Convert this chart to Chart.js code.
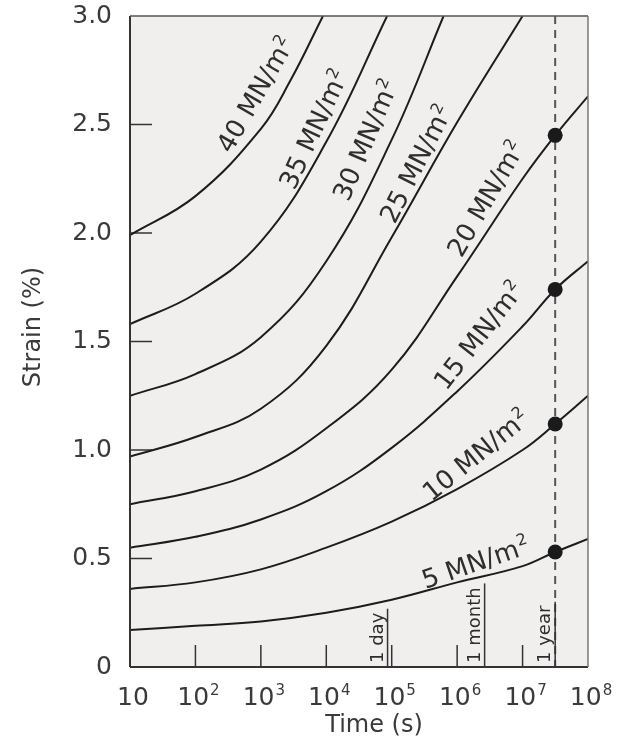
<!DOCTYPE html>
<html>
<head>
<meta charset="utf-8">
<script src="https://cdn.jsdelivr.net/npm/chart.js@4.4.1/dist/chart.umd.min.js"></script>
<style>
  html, body { margin: 0; padding: 0; background: #fff; }
  #wrap { width: 618px; height: 749px; }
</style>
</head>
<body>
<div id="wrap"><canvas id="creepChart" width="618" height="749"></canvas></div>
<script>
// Creep curves: strain (%) against time (s), one curve per stress level (MN/m2)
const stressLevels = [5, 10, 15, 20, 25, 30, 35, 40];

const times    = [1e1, 1e2, 1e3, 1e4, 1e5, 1e6, 1e7, 3.15e7, 1e8];
const strain5  = [0.17, 0.19, 0.21, 0.25, 0.31, 0.39, 0.465, 0.53, 0.59];
const strain10 = [0.36, 0.39, 0.45, 0.55, 0.67, 0.82, 1.00, 1.12, 1.25];
const strain15 = [0.55, 0.60, 0.68, 0.81, 1.01, 1.27, 1.57, 1.74, 1.87];
const strain20 = [0.75, 0.81, 0.91, 1.10, 1.37, 1.80, 2.25, 2.45, 2.63];
const times25  = [1e1, 1e2, 1e3, 1e4, 1e5, 1e6, 1e7];
const strain25 = [0.97, 1.06, 1.19, 1.48, 1.98, 2.51, 3.00];
const times30  = [1e1, 1e2, 1e3, 1e4, 1e5, 6.2e5];
const strain30 = [1.25, 1.35, 1.52, 1.87, 2.43, 3.00];
const times35  = [1e1, 1e2, 1e3, 1e4, 8.5e4];
const strain35 = [1.58, 1.72, 1.96, 2.42, 3.00];
const times40  = [1e1, 1e2, 1e3, 2.8e3, 8.9e3];
const strain40 = [1.99, 2.17, 2.48, 2.70, 3.00];

// strain after one year for the four lowest stresses
const oneYear = 3.15e7;
const yearStrains = [0.53, 1.12, 1.74, 2.45];

// time markers along the axis
const eventTimes  = [86400, 2.63e6, 3.15e7];
const eventLabels = ['1 day', '1 month', '1 year'];

// axis ticks
const yTicks = [0, 0.5, 1.0, 1.5, 2.0, 2.5, 3.0];
const xDecades = [1e1, 1e2, 1e3, 1e4, 1e5, 1e6, 1e7, 1e8];
const xExponents = ['', '2', '3', '4', '5', '6', '7', '8'];

const curveTimes = [times, times, times, times, times25, times30, times35, times40];
const curveStrains = [strain5, strain10, strain15, strain20, strain25, strain30, strain35, strain40];

const FONT = "'DejaVu Sans', sans-serif";
const INK = '#2e2e2e';

// where each stress label sits (data coords) and its tilt in degrees
const labelPlacement = {
  5:  { t: 1.9e6, s: 0.485, angle: 19 },
  10: { t: 1.9e6, s: 0.98,  angle: 39 },
  15: { t: 2.1e6, s: 1.53,  angle: 52 },
  20: { t: 2.7e6, s: 2.16,  angle: 60 },
  25: { t: 2.3e5, s: 2.32,  angle: 63 },
  30: { t: 3.9e4, s: 2.43,  angle: 67 },
  35: { t: 6.3e3, s: 2.48,  angle: 65 },
  40: { t: 8.1e2, s: 2.64,  angle: 60 }
};

const datasets = stressLevels.map((stress, i) => ({
  label: stress + ' MN/m²',
  data: curveTimes[i].map((t, k) => ({ x: t, y: curveStrains[i][k] })),
  borderColor: '#1c1c1c',
  borderWidth: 2,
  pointRadius: 0,
  tension: 0.4,
  fill: false
}));

datasets.push({
  label: '1 year',
  data: yearStrains.map(v => ({ x: oneYear, y: v })),
  showLine: false,
  pointRadius: 7.5,
  pointBackgroundColor: '#1a1a1a',
  pointBorderColor: '#1a1a1a',
  pointBorderWidth: 0
});

function strokeLine(ctx, x1, y1, x2, y2) {
  ctx.beginPath();
  ctx.moveTo(x1, y1);
  ctx.lineTo(x2, y2);
  ctx.stroke();
}

const decorPlugin = {
  id: 'creepDecor',
  beforeDraw(chart) {
    const { ctx, chartArea: a } = chart;
    ctx.save();
    ctx.fillStyle = '#f1eeee';
    ctx.fillRect(a.left, a.top, a.right - a.left, a.bottom - a.top);
    ctx.restore();
  },
  beforeDatasetsDraw(chart) {
    const { ctx, chartArea: a, scales: { x, y } } = chart;
    ctx.save();
    ctx.strokeStyle = '#333';
    ctx.lineWidth = 1.5;

    // inward tick marks
    yTicks.forEach(v => {
      if (v <= 0 || v >= 3) return;
      const py = y.getPixelForValue(v);
      strokeLine(ctx, a.left, py, a.left + 22, py);
    });
    xDecades.forEach(v => {
      if (v <= 10 || v >= 1e8) return;
      const px = x.getPixelForValue(v);
      strokeLine(ctx, px, a.bottom, px, a.bottom - 22);
    });

    // dashed line at one year
    const yearX = x.getPixelForValue(oneYear);
    ctx.strokeStyle = '#555';
    ctx.lineWidth = 2;
    ctx.setLineDash([8, 6]);
    strokeLine(ctx, yearX, a.top, yearX, a.bottom);
    ctx.setLineDash([]);

    // 1 day / 1 month / 1 year, underlined and turned upright
    ctx.font = '18px ' + FONT;
    ctx.fillStyle = INK;
    ctx.strokeStyle = '#333';
    ctx.lineWidth = 1.5;
    eventTimes.forEach((t, i) => {
      const px = x.getPixelForValue(t);
      const w = ctx.measureText(eventLabels[i]).width;
      ctx.save();
      ctx.translate(px - 5, a.bottom - 4);
      ctx.rotate(-Math.PI / 2);
      ctx.textAlign = 'left';
      ctx.textBaseline = 'alphabetic';
      ctx.fillText(eventLabels[i], 0, 0);
      ctx.restore();
      strokeLine(ctx, px, a.bottom, px, a.bottom - w - 8);
    });
    ctx.restore();
  },
  afterDatasetsDraw(chart) {
    const { ctx, chartArea: a, scales: { x, y } } = chart;
    ctx.save();

    // frame
    ctx.strokeStyle = '#333';
    ctx.lineWidth = 2;
    strokeLine(ctx, a.left, a.top, a.left, a.bottom);
    strokeLine(ctx, a.left, a.bottom, a.right, a.bottom);
    ctx.strokeStyle = '#555';
    ctx.lineWidth = 1.5;
    strokeLine(ctx, a.left, a.top, a.right, a.top);
    ctx.strokeStyle = '#777';
    strokeLine(ctx, a.right, a.top, a.right, a.bottom);

    // stress labels along the curves
    ctx.fillStyle = INK;
    stressLevels.forEach(stress => {
      const p = labelPlacement[stress];
      const main = stress + ' MN/m';
      ctx.font = '26px ' + FONT;
      const wm = ctx.measureText(main).width;
      ctx.font = '16px ' + FONT;
      const ws = ctx.measureText('2').width;
      ctx.save();
      ctx.translate(x.getPixelForValue(p.t), y.getPixelForValue(p.s));
      ctx.rotate(-p.angle * Math.PI / 180);
      ctx.textAlign = 'left';
      ctx.textBaseline = 'alphabetic';
      const start = -(wm + ws + 1) / 2;
      ctx.font = '26px ' + FONT;
      ctx.fillText(main, start, 9.5);
      ctx.font = '16px ' + FONT;
      ctx.fillText('2', start + wm + 1, -0.5);
      ctx.restore();
    });

    // decade labels under the x axis
    ctx.fillStyle = '#3a3a3a';
    ctx.textAlign = 'left';
    ctx.textBaseline = 'alphabetic';
    xDecades.forEach((v, i) => {
      const px = x.getPixelForValue(v);
      ctx.font = '25px ' + FONT;
      const wb = ctx.measureText('10').width;
      ctx.font = '15px ' + FONT;
      const we = xExponents[i] ? ctx.measureText(xExponents[i]).width + 1 : 0;
      const start = px - (wb + we) / 2 + 3;
      ctx.font = '25px ' + FONT;
      ctx.fillText('10', start, 705);
      if (xExponents[i]) {
        ctx.font = '15px ' + FONT;
        ctx.fillText(xExponents[i], start + wb + 1, 695);
      }
    });

    // axis titles
    ctx.textAlign = 'center';
    ctx.textBaseline = 'middle';
    ctx.font = '24px ' + FONT;
    ctx.fillText('Time (s)', 374, 726);
    ctx.save();
    ctx.translate(34, 327);
    ctx.rotate(-Math.PI / 2);
    ctx.fillText('Strain (%)', 0, 0);
    ctx.restore();

    ctx.restore();
  }
};

new Chart(document.getElementById('creepChart'), {
  type: 'line',
  data: { datasets },
  options: {
    responsive: false,
    animation: false,
    layout: { padding: { top: 16, right: 30, left: 0, bottom: 0 } },
    plugins: {
      legend: { display: false },
      tooltip: { enabled: false }
    },
    scales: {
      x: {
        type: 'logarithmic',
        min: 10,
        max: 1e8,
        afterFit: s => { s.height = 82; s.paddingLeft = 0; s.paddingRight = 0; },
        grid: { display: false, drawTicks: false },
        border: { display: false },
        ticks: { display: false }
      },
      y: {
        min: 0,
        max: 3,
        afterBuildTicks: s => { s.ticks = yTicks.map(v => ({ value: v })); },
        afterFit: s => { s.width = 130; s.paddingTop = 0; s.paddingBottom = 0; },
        grid: { display: false, drawTicks: false },
        border: { display: false },
        ticks: {
          padding: 18,
          color: '#3a3a3a',
          font: { family: FONT, size: 25 },
          callback: v => (v === 0 ? '0' : v.toFixed(1))
        }
      }
    }
  },
  plugins: [decorPlugin]
});
</script>
</body>
</html>
